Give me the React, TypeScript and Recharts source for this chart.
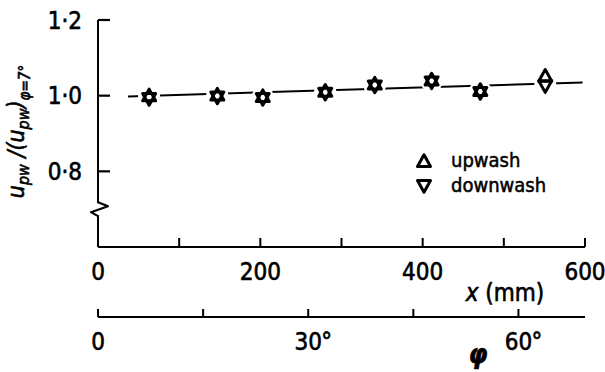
import React from 'react';
import { ComposedChart, Line, Scatter, XAxis, YAxis, ReferenceDot, Legend } from 'recharts';

const positionMm = [63, 147, 203, 280, 341, 411, 471, 551];
const upwash = [0.998, 1.0, 0.996, 1.01, 1.029, 1.04, 1.012, 1.05];
const downwash = [0.994, 0.998, 0.994, 1.008, 1.027, 1.038, 1.01, 1.028];
const fitMm = [37, 597];
const fitRatio = [0.998, 1.035];

const xTicks = [0, 100, 200, 300, 400, 500, 600];
const xTickLabels = ['0', '', '200', '', '400', '', '600'];
const phiTicks = [0, 15, 30, 45, 60];
const phiTickLabels = ['0', '', '30', '', '60'];
const phiDomain = [0, 69.5];
const yTicks = [0.8, 1.0, 1.2];
const yTickLabels = ['0·8', '1·0', '1·2'];
const axisBreak = [{ x: 0, y: 0.7 }];
const legendNames = ['upwash', 'downwash'];

const upData = positionMm.map((x, i) => ({ x, y: upwash[i] }));
const downData = positionMm.map((x, i) => ({ x, y: downwash[i] }));
const fitData = fitMm.map((x, i) => ({ x, y: fitRatio[i] }));
const phiAnchor = phiDomain.map((p) => ({ p, y: null as number | null }));

const FONT = "'DejaVu Sans Condensed', 'DejaVu Sans', sans-serif";
const INK = '#000';
const TICK_MARGIN = 16;
const TXT = { fontFamily: FONT, fill: INK, stroke: INK, strokeWidth: 0.6 } as const;

const upPath = (cx: number, cy: number) =>
  `M${cx},${cy - 7.3} L${cx + 6.5},${cy + 4.4} L${cx - 6.5},${cy + 4.4} Z`;
const downPath = (cx: number, cy: number) =>
  `M${cx},${cy + 7.3} L${cx + 6.5},${cy - 4.4} L${cx - 6.5},${cy - 4.4} Z`;

const Halo = (p: any) => <circle cx={p.cx} cy={p.cy} r={11} fill="#fff" />;
const UpTri = (p: any) => (
  <path d={upPath(p.cx, p.cy)} fill="none" stroke={INK} strokeWidth={3} strokeLinejoin="round" />
);
const DownTri = (p: any) => (
  <path d={downPath(p.cx, p.cy)} fill="none" stroke={INK} strokeWidth={3} strokeLinejoin="round" />
);
const Nothing = () => <g />;

const YTick = (p: any) => {
  const { x, y, payload } = p;
  const i = yTicks.findIndex((v) => Math.abs(v - payload.value) < 1e-9);
  return (
    <g>
      <line x1={x + TICK_MARGIN} x2={x + TICK_MARGIN + 12} y1={y} y2={y} stroke={INK} strokeWidth={2.2} />
      <text x={x} y={y} dy="0.36em" textAnchor="end" fontSize={24} {...TXT}>
        {i >= 0 ? yTickLabels[i] : ''}
      </text>
    </g>
  );
};

const XTick = (p: any) => {
  const { x, y, payload } = p;
  const i = xTicks.indexOf(payload.value);
  const ay = y - TICK_MARGIN;
  return (
    <g>
      <line x1={x} x2={x} y1={ay} y2={ay - 9} stroke={INK} strokeWidth={2} />
      <text x={x} y={y} dy="0.72em" textAnchor="middle" fontSize={24} {...TXT}>
        {i >= 0 ? xTickLabels[i] : ''}
      </text>
    </g>
  );
};

const PhiTick = (p: any) => {
  const { x, y, payload } = p;
  const i = phiTicks.indexOf(payload.value);
  const ay = y - TICK_MARGIN;
  const label = i >= 0 ? phiTickLabels[i] : '';
  return (
    <g>
      <line x1={x} x2={x} y1={ay} y2={ay - 8} stroke={INK} strokeWidth={2} />
      <text x={x} y={y} dy="0.72em" textAnchor="middle" fontSize={24} {...TXT}>
        {label}
      </text>
      {label && label !== '0' ? (
        <text x={x + 13} y={y} dy="0.72em" textAnchor="start" fontSize={24} {...TXT}>
          °
        </text>
      ) : null}
    </g>
  );
};

const BreakShape = (p: any) => {
  const { cx, cy } = p;
  return (
    <g>
      <rect x={cx - 4} y={cy - 6} width={8} height={12} fill="#fff" />
      <path
        d={`M${cx},${cy - 7} L${cx + 10},${cy - 3} L${cx - 7},${cy + 3} L${cx},${cy + 7}`}
        fill="none"
        stroke={INK}
        strokeWidth={2.2}
        strokeLinejoin="round"
      />
    </g>
  );
};

const YLabel = (p: any) => {
  const vb = p.viewBox;
  const cx = vb.x + 24;
  const cy = vb.y + vb.height / 2 - 2;
  return (
    <text
      transform={`translate(${cx},${cy}) rotate(-90)`}
      textAnchor="middle"
      fontStyle="italic"
      fontSize={23}
      {...TXT}
    >
      u<tspan fontSize={16} dy={5}>pw</tspan>
      <tspan dy={-5}> /(</tspan>u<tspan fontSize={16} dy={5}>pw</tspan>
      <tspan dy={-5}>)</tspan>
      <tspan fontSize={15} dy={6}>φ=7°</tspan>
    </text>
  );
};

const XLabel = (p: any) => {
  const vb = p.viewBox;
  return (
    <text x={vb.x + vb.width - 80} y={vb.y + 54} textAnchor="middle" fontSize={24} {...TXT}>
      <tspan fontStyle="italic">x</tspan> (mm)
    </text>
  );
};

const PhiLabel = (p: any) => {
  const vb = p.viewBox;
  return (
    <text
      x={vb.x + vb.width - 107}
      y={vb.y + 46}
      textAnchor="middle"
      fontStyle="italic"
      fontWeight="bold"
      fontSize={27}
      {...TXT}
    >
      φ
    </text>
  );
};

const LegendContent = () => (
  <div style={{ fontFamily: FONT, fontSize: 20, color: INK, lineHeight: '25px', WebkitTextStroke: '0.5px #000' }}>
    {legendNames.map((name, i) => (
      <div key={name} style={{ display: 'flex', alignItems: 'center', height: 25 }}>
        <svg width={30} height={20} style={{ display: 'block' }}>
          <path
            d={i === 0 ? upPath(11, 11) : downPath(11, 9)}
            fill="none"
            stroke={INK}
            strokeWidth={3}
            strokeLinejoin="round"
          />
        </svg>
        <span style={{ marginLeft: 8 }}>{name}</span>
      </div>
    ))}
  </div>
);

export default function App() {
  return (
    <div style={{ position: 'absolute', left: 0, top: 0, width: 605, height: 372, background: '#fff' }}>
      <ComposedChart width={605} height={372} margin={{ top: 20, right: 20, bottom: 0, left: 0 }}>
        <XAxis
          xAxisId="mm"
          type="number"
          dataKey="x"
          domain={[0, 600]}
          ticks={xTicks}
          interval={0}
          height={70}
          tickSize={0}
          tickMargin={TICK_MARGIN}
          tick={<XTick />}
          axisLine={{ stroke: INK, strokeWidth: 2 }}
          allowDataOverflow
          label={{ content: <XLabel /> }}
        />
        <XAxis
          xAxisId="phi"
          type="number"
          dataKey="p"
          domain={phiDomain}
          ticks={phiTicks}
          interval={0}
          height={55}
          tickSize={0}
          tickMargin={TICK_MARGIN}
          tick={<PhiTick />}
          axisLine={{ stroke: INK, strokeWidth: 2 }}
          allowDataOverflow
          label={{ content: <PhiLabel /> }}
        />
        <YAxis
          type="number"
          dataKey="y"
          domain={[0.6, 1.2]}
          ticks={yTicks}
          interval={0}
          width={98}
          tickSize={0}
          tickMargin={TICK_MARGIN}
          tick={<YTick />}
          axisLine={{ stroke: INK, strokeWidth: 2 }}
          allowDataOverflow
          label={{ content: <YLabel /> }}
        />
        <Line
          xAxisId="mm"
          data={fitData}
          dataKey="y"
          stroke={INK}
          strokeWidth={2}
          dot={false}
          activeDot={false}
          isAnimationActive={false}
          legendType="none"
        />
        <Scatter
          xAxisId="phi"
          data={phiAnchor}
          shape={<Nothing />}
          isAnimationActive={false}
          legendType="none"
        />
        <Scatter xAxisId="mm" data={upData} shape={<Halo />} isAnimationActive={false} legendType="none" />
        <Scatter xAxisId="mm" data={downData} shape={<Halo />} isAnimationActive={false} legendType="none" />
        <Scatter xAxisId="mm" name="upwash" data={upData} shape={<UpTri />} isAnimationActive={false} />
        <Scatter xAxisId="mm" name="downwash" data={downData} shape={<DownTri />} isAnimationActive={false} />
        <ReferenceDot
          xAxisId="mm"
          x={axisBreak[0].x}
          y={axisBreak[0].y}
          ifOverflow="visible"
          shape={<BreakShape />}
        />
        <Legend
          layout="vertical"
          align="center"
          verticalAlign="middle"
          content={<LegendContent />}
          wrapperStyle={{ left: 413, top: 148, width: 170 }}
        />
      </ComposedChart>
    </div>
  );
}
